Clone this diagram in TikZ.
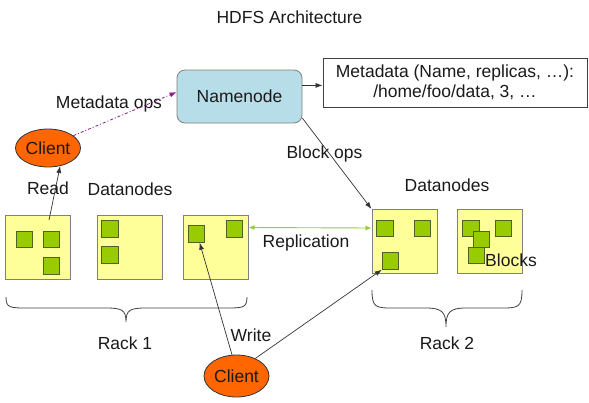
\documentclass[tikz,border=0pt]{standalone}
\usepackage{fontspec}
\setmainfont{Liberation Sans}
\usetikzlibrary{arrows.meta,shapes.geometric}
\definecolor{txt}{HTML}{1A1A1A}
\definecolor{nnfill}{HTML}{B7DEE8}
\definecolor{nnline}{HTML}{7F7F7F}
\definecolor{boxfill}{HTML}{FFFF99}
\definecolor{boxline}{HTML}{808080}
\definecolor{blkfill}{HTML}{99CC00}
\definecolor{blkline}{HTML}{4F6228}
\definecolor{clientfill}{HTML}{FF6600}
\definecolor{metaline}{HTML}{404040}
\definecolor{purp}{HTML}{8B1A8B}
\definecolor{repl}{HTML}{99CC33}
\begin{document}
\begin{tikzpicture}[x=1pt,y=-1pt,
  font=\fontsize{17.5}{20}\selectfont,
  lbl/.style={inner sep=0pt, text=txt},
  dnbox/.style={draw=boxline, fill=boxfill, minimum width=65pt, minimum height=64pt, inner sep=0pt, line width=1pt},
  blk/.style={draw=blkline, fill=blkfill, minimum size=16.5pt, inner sep=0pt, line width=0.9pt},
  client/.style={ellipse, draw=black!80, fill=clientfill, minimum width=65pt, inner sep=0pt, line width=0.8pt, text=txt},
  conn/.style={draw=black!80, line width=0.7pt, -{Latex[length=7pt,width=5pt]}},
  brace/.style={draw=black!75, line width=0.8pt}
]
\useasboundingbox (0,0) rectangle (589,402);
% title
\node[lbl] (title) at (289.5,17) {HDFS Architecture};
% namenode & metadata
\node[draw=nnline, fill=nnfill, rounded corners=8pt, minimum width=125pt, minimum height=53pt, inner sep=0pt, line width=0.8pt, text=txt] (nn) at (239.5,96.5) {Namenode};
\node[draw=metaline, fill=white, minimum width=264pt, minimum height=49pt, inner sep=0pt, line width=0.8pt, align=center, text=txt] (md) at (455,82.5) {Metadata (Name, replicas, \dots):\\/home/foo/data, 3, \dots};
% clients
\node[client, minimum height=38pt] (c1) at (48,148) {Client};
\node[client, minimum height=42pt] (c2) at (236.5,376) {Client};
% rack 1
\node[dnbox] (b1) at (37.5,247) {};
\node[dnbox] (b2) at (129.5,247) {};
\node[dnbox] (b3) at (215.5,247) {};
\node[blk] (s11) at (24.5,239.5) {};
\node[blk] (s12) at (51.5,239.5) {};
\node[blk] (s13) at (51.5,266) {};
\node[blk] (s21) at (110,229) {};
\node[blk] (s22) at (110,255) {};
\node[blk] (s31) at (196.5,234) {};
\node[blk] (s32) at (234.5,229) {};
% rack 2
\node[dnbox] (ra) at (404.5,241.5) {};
\node[dnbox] (rb) at (489.5,241.5) {};
\node[blk] (sa1) at (385,228.5) {};
\node[blk] (sa2) at (422.5,228.5) {};
\node[blk] (sa3) at (390.5,261) {};
\node[blk] (sb1) at (471,228.5) {};
\node[blk] (sb2) at (503.5,228.5) {};
\node[blk] (sb3) at (481.5,239.5) {};
\node[blk] (sb4) at (476.5,255.5) {};
% labels
\node[lbl] (lmeta) at (109,104) {Metadata ops};
\node[lbl] (lread) at (48,188) {Read};
\node[lbl] (ldn1) at (130,189) {Datanodes};
\node[lbl] (lblock) at (324.5,154) {Block ops};
\node[lbl] (lrepl) at (306,243) {Replication};
\node[lbl] (ldn2) at (447,185) {Datanodes};
\node[lbl] (lblocks) at (511,260) {Blocks};
\node[lbl] (lrack1) at (125,343) {Rack 1};
\node[lbl] (lwrite) at (251,335) {Write};
\node[lbl] (lrack2) at (447,343) {Rack 2};
% connectors
\coordinate (readstart) at (49,220);
\draw[conn] (readstart) -- (c1.-56);
\draw[draw=purp, line width=0.8pt, dash pattern=on 3pt off 2pt on 1pt off 2pt, -{Latex[length=7pt,width=5pt]}] (c1.26) -- (nn.176);
\draw[conn] (nn.10) -- (nn.10 -| md.west);
\draw[conn] (nn.-19) -- (ra.north west);
\draw[draw=repl, line width=0.9pt, {Latex[length=6pt,width=5pt]}-{Latex[length=6pt,width=5pt]}] ([yshift=-13pt]b3.north east) -- ([yshift=-19pt]ra.north west);
\draw[conn] (c2.102) -- (s31.-70);
\draw[conn] (c2.43) -- (sa3.south west);
% braces
\path[brace] (6,297) .. controls (6,308) and (10,308) .. (28,308) -- (106,308) .. controls (122,308) and (126,310) .. (126,322) .. controls (126,310) and (130,308) .. (146,308) -- (225,308) .. controls (243,308) and (247,308) .. (247,297);
\path[brace] (372,290) .. controls (372,308) and (376,308) .. (394,308) -- (426,308) .. controls (442,308) and (446,312) .. (446,327) .. controls (446,312) and (450,308) .. (466,308) -- (500,308) .. controls (518,308) and (522,308) .. (522,290);
\end{tikzpicture}
\end{document}
